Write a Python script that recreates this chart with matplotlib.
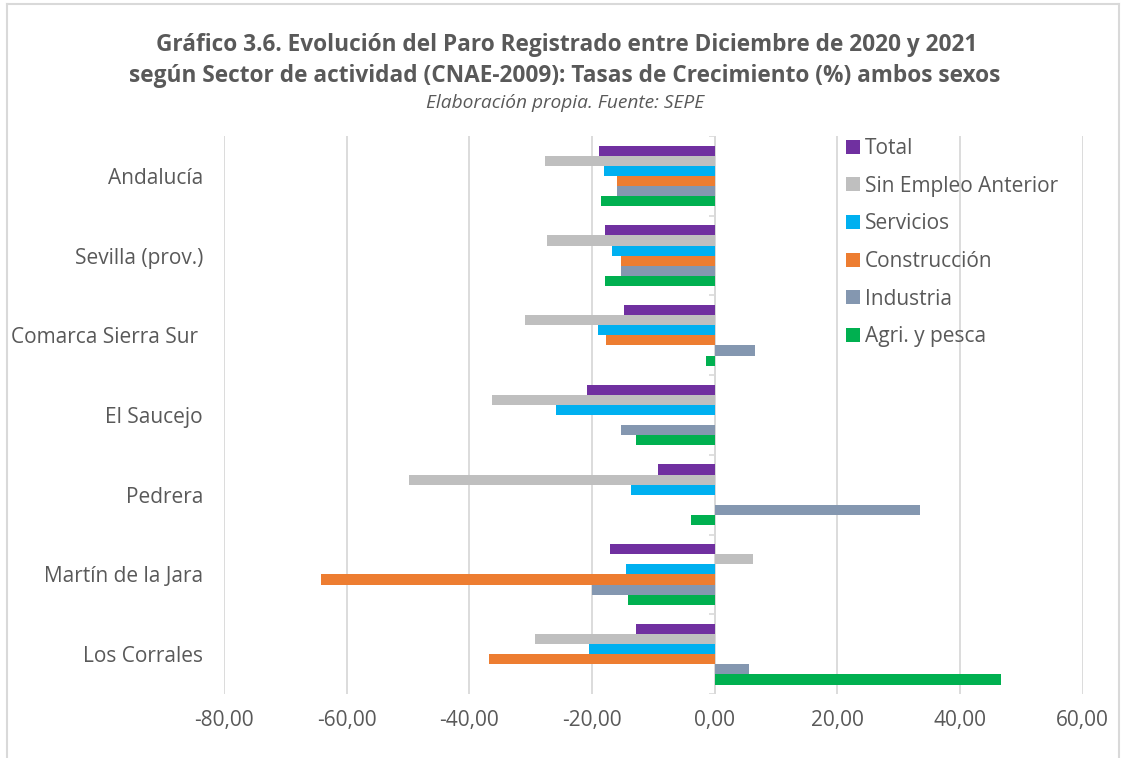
import matplotlib.pyplot as plt
import matplotlib.lines as mlines
import numpy as np

plt.rcParams['font.family'] = ['Open Sans', 'DejaVu Sans']

# Data (growth rates %, Dec 2020 -> Dec 2021)
categories = ["Andalucía", "Sevilla (prov.)", "Comarca Sierra Sur ", "El Saucejo",
              "Pedrera", "Martín de la Jara", "Los Corrales"]
series = ["Total", "Sin Empleo Anterior", "Servicios", "Construcción",
          "Industria", "Agri. y pesca"]

total = [-18.9, -17.9, -14.8, -20.8, -9.3, -17.0, -12.9]
sin_empleo = [-27.6, -27.3, -31.0, -36.3, -49.9, 6.2, -29.3]
servicios = [-18.0, -16.8, -19.1, -25.9, -13.6, -14.4, -20.5]
construccion = [-15.9, -15.3, -17.7, 0.0, 0.0, -64.2, -36.8]
industria = [-15.9, -15.3, 6.5, -15.3, 33.4, -20.0, 5.6]
agri = [-18.5, -17.9, -1.4, -12.8, -3.9, -14.2, 46.6]

colors = ["#7030A0", "#BFBFBF", "#00B0F0", "#ED7D31", "#8497B0", "#00B050"]
xticks = [-80, -60, -40, -20, 0, 20, 40, 60]

TEXT = "#595959"
GRID = "#D9D9D9"


def main():
    values = [total, sin_empleo, servicios, construccion, industria, agri]

    fig = plt.figure(figsize=(11.23, 7.58), dpi=100)
    ax = fig.add_axes([0.1994, 0.0844, 0.7648, 0.7361])

    y = np.arange(len(categories))
    h = 0.127
    for j, (name, vals) in enumerate(zip(series, values)):
        ax.barh(y + (j - 2.5) * h, vals, height=h, color=colors[j],
                label=name, zorder=3)

    # category axis sits at x = 0, with ticks between categories
    ax.axvline(0, color=GRID, linewidth=1.2, zorder=2)
    bounds = np.arange(len(categories) + 1) - 0.5
    ax.hlines(bounds, -1.0, 0, color=GRID, linewidth=1.2, zorder=2)

    ax.set_xlim(-80, 60)
    ax.set_ylim(len(categories) - 0.5, -0.5)
    ax.set_xticks(xticks)
    ax.set_xticklabels([f"{v:.2f}".replace(".", ",") for v in xticks])
    ax.set_yticks(y)
    ax.set_yticklabels(categories)
    ax.tick_params(axis="both", length=0, labelsize=15, colors=TEXT)
    ax.tick_params(axis="y", pad=15)
    ax.tick_params(axis="x", pad=11.5)
    ax.grid(axis="x", color=GRID, linewidth=1.3, zorder=0)
    ax.grid(axis="y", visible=False)
    for s in ax.spines.values():
        s.set_visible(False)

    leg = ax.legend(loc="upper left", bbox_to_anchor=(846 / 1123, 1 - 138 / 758),
                    bbox_transform=fig.transFigure, frameon=False,
                    fontsize=15, handlelength=0.67, handleheight=0.67,
                    handletextpad=0.25, labelspacing=0.8, borderpad=0,
                    borderaxespad=0)
    for t in leg.get_texts():
        t.set_color(TEXT)

    # titles
    fig.text(0.505, 1 - 45 / 758,
             "Gráfico 3.6. Evolución del Paro Registrado entre Diciembre de 2020 y 2021",
             ha="center", va="center", fontsize=16.3, fontweight="bold", color=TEXT)
    fig.text(0.503, 1 - 76 / 758,
             "según Sector de actividad (CNAE-2009): Tasas de Crecimiento (%) ambos sexos",
             ha="center", va="center", fontsize=16.3, fontweight="bold", color=TEXT)
    fig.text(0.503, 1 - 103 / 758, "Elaboración propia. Fuente: SEPE",
             ha="center", va="center", fontsize=13.8, style="italic", color=TEXT)

    # chart border (cropped at the bottom)
    for xs, ys in [([7, 7], [0, 754]), ([7, 1119], [754, 754]), ([1119, 1119], [0, 754])]:
        fig.add_artist(mlines.Line2D(np.array(xs) / 1123, np.array(ys) / 758,
                                     color=GRID, linewidth=1.5,
                                     transform=fig.transFigure))

    fig.savefig("out.png", dpi=100)


if __name__ == "__main__":
    main()
